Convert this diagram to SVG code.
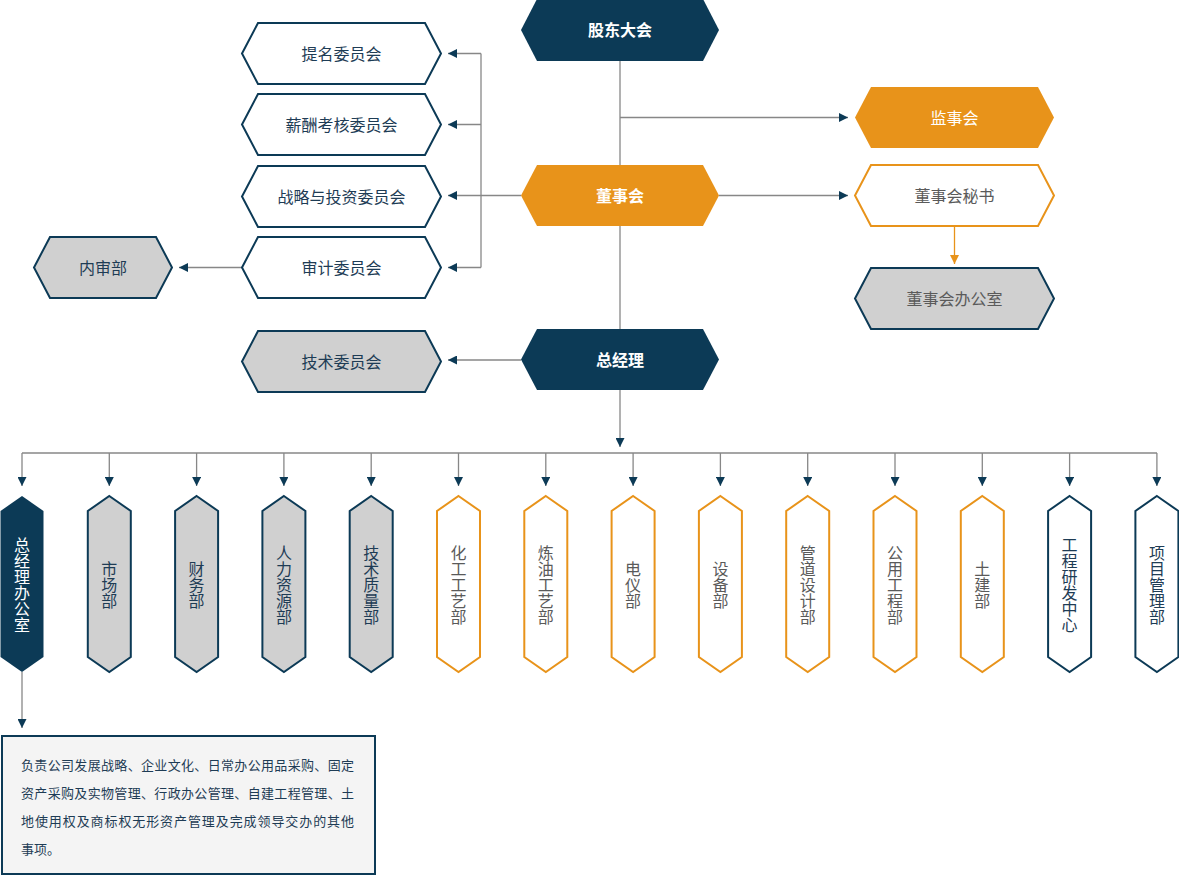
<svg xmlns="http://www.w3.org/2000/svg" width="1179" height="876" viewBox="0 0 1179 876">
<defs>
<style>
.ln{stroke:#878787;stroke-width:1.3;fill:none}
.lo{stroke:#e8931a;stroke-width:1.3;fill:none}
.navy{fill:#0c3a56}
.orange{fill:#e8931a}
.wn{fill:#ffffff;stroke:#0c3a56;stroke-width:2}
.gn{fill:#d0d0d0;stroke:#0c3a56;stroke-width:2}
.wo{fill:#ffffff;stroke:#e8931a;stroke-width:2}
text{font-family:"Noto Sans CJK SC","Liberation Sans",sans-serif;font-size:16px}
.tb{fill:#ffffff;font-weight:bold;text-anchor:middle;dominant-baseline:central}
.tw{fill:#ffffff;text-anchor:middle;dominant-baseline:central}
.tn{fill:#1e3c55;text-anchor:middle;dominant-baseline:central}
.tg{fill:#5a5a5a;text-anchor:middle;dominant-baseline:central}
.box{fill:#f4f4f4;stroke:#0c3a56;stroke-width:2}
.bt{fill:#1e3c55;font-size:13px}
</style>
<marker id="an" viewBox="0 0 10 10" refX="10" refY="5" markerUnits="userSpaceOnUse" markerWidth="9" markerHeight="9" orient="auto"><path d="M0,0 L10,5 L0,10 z" fill="#0c3a56"/></marker>
<marker id="ao" viewBox="0 0 10 10" refX="10" refY="5" markerUnits="userSpaceOnUse" markerWidth="9" markerHeight="9" orient="auto"><path d="M0,0 L10,5 L0,10 z" fill="#e8931a"/></marker>
</defs>
<rect width="1179" height="876" fill="#ffffff"/>

<g id="connectors">
<line class="ln" x1="620" y1="61" x2="620" y2="329"/>
<line class="ln" x1="620" y1="117.5" x2="848" y2="117.5" marker-end="url(#an)"/>
<line class="ln" x1="719" y1="195.5" x2="848" y2="195.5" marker-end="url(#an)"/>
<line class="ln" x1="521" y1="195.5" x2="448" y2="195.5" marker-end="url(#an)"/>
<line class="ln" x1="481" y1="53.5" x2="481" y2="267.5"/>
<line class="ln" x1="481" y1="53.5" x2="448" y2="53.5" marker-end="url(#an)"/>
<line class="ln" x1="481" y1="124.5" x2="448" y2="124.5" marker-end="url(#an)"/>
<line class="ln" x1="481" y1="267.5" x2="448" y2="267.5" marker-end="url(#an)"/>
<line class="ln" x1="242" y1="267.5" x2="179" y2="267.5" marker-end="url(#an)"/>
<line class="ln" x1="521" y1="360" x2="448" y2="360" marker-end="url(#an)"/>
<line class="lo" x1="954.5" y1="226" x2="954.5" y2="264" marker-end="url(#ao)"/>
<line class="ln" x1="620" y1="390" x2="620" y2="447" marker-end="url(#an)"/>
<line class="ln" x1="22" y1="453" x2="1157" y2="453"/>
<line class="ln" x1="22" y1="453" x2="22" y2="486" marker-end="url(#an)"/>
<line class="ln" x1="109.3" y1="453" x2="109.3" y2="486" marker-end="url(#an)"/>
<line class="ln" x1="196.6" y1="453" x2="196.6" y2="486" marker-end="url(#an)"/>
<line class="ln" x1="283.9" y1="453" x2="283.9" y2="486" marker-end="url(#an)"/>
<line class="ln" x1="371.2" y1="453" x2="371.2" y2="486" marker-end="url(#an)"/>
<line class="ln" x1="458.5" y1="453" x2="458.5" y2="486" marker-end="url(#an)"/>
<line class="ln" x1="545.8" y1="453" x2="545.8" y2="486" marker-end="url(#an)"/>
<line class="ln" x1="633.1" y1="453" x2="633.1" y2="486" marker-end="url(#an)"/>
<line class="ln" x1="720.4" y1="453" x2="720.4" y2="486" marker-end="url(#an)"/>
<line class="ln" x1="807.7" y1="453" x2="807.7" y2="486" marker-end="url(#an)"/>
<line class="ln" x1="895" y1="453" x2="895" y2="486" marker-end="url(#an)"/>
<line class="ln" x1="982.3" y1="453" x2="982.3" y2="486" marker-end="url(#an)"/>
<line class="ln" x1="1069.6" y1="453" x2="1069.6" y2="486" marker-end="url(#an)"/>
<line class="ln" x1="1156.9" y1="453" x2="1156.9" y2="486" marker-end="url(#an)"/>
<line class="ln" x1="22" y1="672" x2="22" y2="728" marker-end="url(#an)"/>
</g>

<g id="gudong">
<polygon class="navy" points="521,30 537,-1 703,-1 719,30 703,61 537,61"/>
<text class="tb" x="620" y="29">股东大会</text>
</g>
<g id="dongshihui">
<polygon class="orange" points="521,195.5 537,165 703,165 719,195.5 703,226 537,226"/>
<text class="tb" x="620" y="194.5">董事会</text>
</g>
<g id="zongjingli">
<polygon class="navy" points="521,359.5 537,329 703,329 719,359.5 703,390 537,390"/>
<text class="tb" x="620" y="358.5">总经理</text>
</g>
<g id="timing">
<polygon class="wn" points="242,53.5 258,23 425,23 441,53.5 425,84 258,84"/>
<text class="tn" x="341.5" y="52.5">提名委员会</text>
</g>
<g id="xinchou">
<polygon class="wn" points="242,124.5 258,94 425,94 441,124.5 425,155 258,155"/>
<text class="tn" x="341.5" y="123.5">薪酬考核委员会</text>
</g>
<g id="zhanlue">
<polygon class="wn" points="242,196.5 258,166 425,166 441,196.5 425,227 258,227"/>
<text class="tn" x="341.5" y="195.5">战略与投资委员会</text>
</g>
<g id="shenji">
<polygon class="wn" points="242,267.5 258,237 425,237 441,267.5 425,298 258,298"/>
<text class="tn" x="341.5" y="266.5">审计委员会</text>
</g>
<g id="neishenbu">
<polygon class="gn" points="34,267.5 50,237 156,237 172,267.5 156,298 50,298"/>
<text class="tn" x="103" y="266.5">内审部</text>
</g>
<g id="jishuweiyuanhui">
<polygon class="gn" points="242,361.5 258,331 425,331 441,361.5 425,392 258,392"/>
<text class="tn" x="341.5" y="360.5">技术委员会</text>
</g>
<g id="jianshihui">
<polygon class="orange" points="855,117.5 871,87 1038,87 1054,117.5 1038,148 871,148"/>
<text class="tw" x="954.5" y="116.5">监事会</text>
</g>
<g id="mishu">
<polygon class="wo" points="855,195.5 871,165 1038,165 1054,195.5 1038,226 871,226"/>
<text class="tg" x="954.5" y="194.5">董事会秘书</text>
</g>
<g id="dongban">
<polygon class="gn" points="855,298.5 871,268 1038,268 1054,298.5 1038,329 871,329"/>
<text class="tg" x="954.5" y="297.5">董事会办公室</text>
</g>

<g id="d0">
<polygon class="navy" points="22,496 43.5,511 43.5,657 22,672 0.5,657 0.5,511"/>
<text class="tw"><tspan x="22" y="544">总</tspan><tspan x="22" y="560">经</tspan><tspan x="22" y="576">理</tspan><tspan x="22" y="592">办</tspan><tspan x="22" y="608">公</tspan><tspan x="22" y="624">室</tspan></text>
</g>
<g id="d1">
<polygon class="gn" points="109.3,496 130.8,511 130.8,657 109.3,672 87.8,657 87.8,511"/>
<text class="tn"><tspan x="109.3" y="568">市</tspan><tspan x="109.3" y="584">场</tspan><tspan x="109.3" y="600">部</tspan></text>
</g>
<g id="d2">
<polygon class="gn" points="196.6,496 218.1,511 218.1,657 196.6,672 175.1,657 175.1,511"/>
<text class="tn"><tspan x="196.6" y="568">财</tspan><tspan x="196.6" y="584">务</tspan><tspan x="196.6" y="600">部</tspan></text>
</g>
<g id="d3">
<polygon class="gn" points="283.9,496 305.4,511 305.4,657 283.9,672 262.4,657 262.4,511"/>
<text class="tn"><tspan x="283.9" y="552">人</tspan><tspan x="283.9" y="568">力</tspan><tspan x="283.9" y="584">资</tspan><tspan x="283.9" y="600">源</tspan><tspan x="283.9" y="616">部</tspan></text>
</g>
<g id="d4">
<polygon class="gn" points="371.2,496 392.7,511 392.7,657 371.2,672 349.7,657 349.7,511"/>
<text class="tn"><tspan x="371.2" y="552">技</tspan><tspan x="371.2" y="568">术</tspan><tspan x="371.2" y="584">质</tspan><tspan x="371.2" y="600">量</tspan><tspan x="371.2" y="616">部</tspan></text>
</g>
<g id="d5">
<polygon class="wo" points="458.5,496 480,511 480,657 458.5,672 437,657 437,511"/>
<text class="tg"><tspan x="458.5" y="552">化</tspan><tspan x="458.5" y="568">工</tspan><tspan x="458.5" y="584">工</tspan><tspan x="458.5" y="600">艺</tspan><tspan x="458.5" y="616">部</tspan></text>
</g>
<g id="d6">
<polygon class="wo" points="545.8,496 567.3,511 567.3,657 545.8,672 524.3,657 524.3,511"/>
<text class="tg"><tspan x="545.8" y="552">炼</tspan><tspan x="545.8" y="568">油</tspan><tspan x="545.8" y="584">工</tspan><tspan x="545.8" y="600">艺</tspan><tspan x="545.8" y="616">部</tspan></text>
</g>
<g id="d7">
<polygon class="wo" points="633.1,496 654.6,511 654.6,657 633.1,672 611.6,657 611.6,511"/>
<text class="tg"><tspan x="633.1" y="568">电</tspan><tspan x="633.1" y="584">仪</tspan><tspan x="633.1" y="600">部</tspan></text>
</g>
<g id="d8">
<polygon class="wo" points="720.4,496 741.9,511 741.9,657 720.4,672 698.9,657 698.9,511"/>
<text class="tg"><tspan x="720.4" y="568">设</tspan><tspan x="720.4" y="584">备</tspan><tspan x="720.4" y="600">部</tspan></text>
</g>
<g id="d9">
<polygon class="wo" points="807.7,496 829.2,511 829.2,657 807.7,672 786.2,657 786.2,511"/>
<text class="tg"><tspan x="807.7" y="552">管</tspan><tspan x="807.7" y="568">道</tspan><tspan x="807.7" y="584">设</tspan><tspan x="807.7" y="600">计</tspan><tspan x="807.7" y="616">部</tspan></text>
</g>
<g id="d10">
<polygon class="wo" points="895,496 916.5,511 916.5,657 895,672 873.5,657 873.5,511"/>
<text class="tg"><tspan x="895" y="552">公</tspan><tspan x="895" y="568">用</tspan><tspan x="895" y="584">工</tspan><tspan x="895" y="600">程</tspan><tspan x="895" y="616">部</tspan></text>
</g>
<g id="d11">
<polygon class="wo" points="982.3,496 1003.8,511 1003.8,657 982.3,672 960.8,657 960.8,511"/>
<text class="tg"><tspan x="982.3" y="568">土</tspan><tspan x="982.3" y="584">建</tspan><tspan x="982.3" y="600">部</tspan></text>
</g>
<g id="d12">
<polygon class="wn" points="1069.6,496 1091.1,511 1091.1,657 1069.6,672 1048.1,657 1048.1,511"/>
<text class="tn"><tspan x="1069.6" y="544">工</tspan><tspan x="1069.6" y="560">程</tspan><tspan x="1069.6" y="576">研</tspan><tspan x="1069.6" y="592">发</tspan><tspan x="1069.6" y="608">中</tspan><tspan x="1069.6" y="624">心</tspan></text>
</g>
<g id="d13">
<polygon class="wn" points="1156.9,496 1178.4,511 1178.4,657 1156.9,672 1135.4,657 1135.4,511"/>
<text class="tn"><tspan x="1156.9" y="552">项</tspan><tspan x="1156.9" y="568">目</tspan><tspan x="1156.9" y="584">管</tspan><tspan x="1156.9" y="600">理</tspan><tspan x="1156.9" y="616">部</tspan></text>
</g>

<g id="desc">
<rect class="box" x="2" y="736" width="373" height="138"/>
<text class="bt" x="21" y="770" textLength="333" lengthAdjust="spacing">负责公司发展战略、企业文化、日常办公用品采购、固定</text>
<text class="bt" x="21" y="798" textLength="333" lengthAdjust="spacing">资产采购及实物管理、行政办公管理、自建工程管理、土</text>
<text class="bt" x="21" y="826" textLength="333" lengthAdjust="spacing">地使用权及商标权无形资产管理及完成领导交办的其他</text>
<text class="bt" x="21" y="854">事项。</text>
</g>
</svg>
